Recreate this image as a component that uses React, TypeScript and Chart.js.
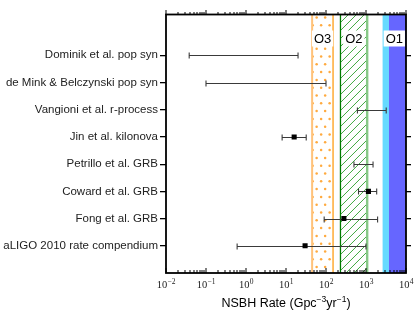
import React, { useEffect, useRef } from "react";
import { Chart, registerables } from "chart.js";

Chart.register(...registerables);

// ---- data ----
const categories = [
  "Dominik et al. pop syn",
  "de Mink & Belczynski pop syn",
  "Vangioni et al. r-process",
  "Jin et al. kilonova",
  "Petrillo et al. GRB",
  "Coward et al. GRB",
  "Fong et al. GRB",
  "aLIGO 2010 rate compendium",
];
const rateLow = [0.038, 0.1, 610, 8, 500, 650, 90, 0.6];
const rateHigh = [20, 100, 3200, 32, 1500, 1850, 1950, 1000];
const rateCentral: (number | null)[] = [null, null, null, 16, null, 1150, 280, 30];

const runNames = ["O3", "O2", "O1"];
const runLow = [45, 230, 2600];
const runHigh = [150, 1070, 10000];
const o1InnerEdge = 3750;

const xTickExponents = [-2, -1, 0, 1, 2, 3, 4];
const xMinorMultipliers = [1, 2, 3, 4, 5, 6, 7, 8, 9];
const xMin = 0.01;
const xMax = 10000;

const SANS = "'Liberation Sans', Arial, Helvetica, sans-serif";
const SERIF = "'Liberation Serif', 'DejaVu Serif', serif";

const decorPlugin = {
  id: "decor",
  beforeDatasetsDraw(chart: any) {
    const ctx = chart.ctx;
    const { top, bottom } = chart.chartArea;
    const xs = chart.scales.x;
    const ys = chart.scales.y;
    ctx.save();
    ctx.beginPath();
    ctx.rect(chart.chartArea.left, top, chart.chartArea.right - chart.chartArea.left, bottom - top);
    ctx.clip();

    // O3 band: dots
    {
      const a = xs.getPixelForValue(runLow[0]);
      const b = xs.getPixelForValue(runHigh[0]);
      ctx.save();
      ctx.beginPath();
      ctx.rect(a, top, b - a, bottom - top);
      ctx.clip();
      ctx.fillStyle = "#FFAA3F";
      let row = 0;
      for (let y = top + 3; y < bottom; y += 7.8) {
        const off = row % 2 === 0 ? 4.5 : 0.5;
        for (let x = a + off; x < b; x += 8.5) {
          ctx.beginPath();
          ctx.arc(x, y, 1.25, 0, Math.PI * 2);
          ctx.fill();
        }
        row++;
      }
      ctx.restore();
      ctx.lineWidth = 2;
      ctx.strokeStyle = "#FFC27A";
      ctx.beginPath();
      ctx.moveTo(a, top);
      ctx.lineTo(a, bottom);
      ctx.stroke();
      ctx.lineWidth = 1.2;
      ctx.strokeStyle = "#FF9500";
      ctx.beginPath();
      ctx.moveTo(b, top);
      ctx.lineTo(b, bottom);
      ctx.stroke();
    }

    // O2 band: hatch
    {
      const a = xs.getPixelForValue(runLow[1]);
      const b = xs.getPixelForValue(runHigh[1]);
      ctx.save();
      ctx.beginPath();
      ctx.rect(a, top, b - a, bottom - top);
      ctx.clip();
      ctx.strokeStyle = "#2E9E2E";
      ctx.lineWidth = 0.9;
      const h = bottom - top;
      for (let s = a - h; s < b + 10; s += 8) {
        ctx.beginPath();
        ctx.moveTo(s, bottom);
        ctx.lineTo(s + h, top);
        ctx.stroke();
      }
      ctx.restore();
      ctx.lineWidth = 1.3;
      ctx.strokeStyle = "#007A00";
      ctx.beginPath();
      ctx.moveTo(a, top);
      ctx.lineTo(a, bottom);
      ctx.stroke();
      ctx.lineWidth = 2.4;
      ctx.strokeStyle = "#86C886";
      ctx.beginPath();
      ctx.moveTo(b, top);
      ctx.lineTo(b, bottom);
      ctx.stroke();
    }

    // O1 band
    {
      const a = xs.getPixelForValue(runLow[2]);
      const m = xs.getPixelForValue(o1InnerEdge);
      const b = xs.getPixelForValue(runHigh[2]);
      ctx.fillStyle = "#66DAFF";
      ctx.fillRect(a, top, m - a, bottom - top);
      ctx.fillStyle = "#6666FF";
      ctx.fillRect(m, top, b - m, bottom - top);
    }

    // run labels
    ctx.font = `13px ${SANS}`;
    ctx.textAlign = "center";
    ctx.textBaseline = "middle";
    const ly = 38.5;
    runNames.forEach((name, i) => {
      const c = xs.getPixelForValue(Math.sqrt(runLow[i] * runHigh[i]));
      const w = ctx.measureText(name).width;
      ctx.fillStyle = "#FFFFFF";
      ctx.fillRect(c - w / 2 - 2, ly - 8, w + 4, 16);
      ctx.fillStyle = "#000000";
      ctx.fillText(name, c, ly + 0.5);
    });

    // error bars
    ctx.strokeStyle = "#3a3a3a";
    ctx.lineWidth = 1.1;
    categories.forEach((_, i) => {
      const y = Math.round(ys.getPixelForValue(i)) + 0.5;
      const x1 = xs.getPixelForValue(rateLow[i]);
      const x2 = xs.getPixelForValue(rateHigh[i]);
      ctx.beginPath();
      ctx.moveTo(x1, y);
      ctx.lineTo(x2, y);
      ctx.moveTo(x1, y - 3);
      ctx.lineTo(x1, y + 3);
      ctx.moveTo(x2, y - 3);
      ctx.lineTo(x2, y + 3);
      ctx.stroke();
    });
    ctx.restore();
  },
  afterDraw(chart: any) {
    const ctx = chart.ctx;
    const { left, right, top, bottom } = chart.chartArea;
    const xs = chart.scales.x;
    ctx.save();
    // frame
    ctx.strokeStyle = "#000";
    ctx.lineWidth = 1.8;
    ctx.strokeRect(left, top, right - left, bottom - top);

    // x ticks (top outward, bottom inward)
    ctx.fillStyle = "#000";
    const t0 = Math.round(top);
    const b0 = Math.round(bottom);
    xTickExponents.forEach((e) => {
      xMinorMultipliers.forEach((k) => {
        const v = k * Math.pow(10, e);
        if (v > xMax * 1.0001) return;
        const x = Math.round(xs.getPixelForValue(v));
        const len = k === 1 ? 5 : 3;
        ctx.fillRect(x - 0.5, t0 - len, 1, len);
        ctx.fillRect(x - 0.5, b0 - len, 1, len);
      });
    });

    // x tick labels 10^n
    ctx.fillStyle = "#222";
    ctx.textBaseline = "alphabetic";
    ctx.textAlign = "left";
    xTickExponents.forEach((e) => {
      const x = xs.getPixelForValue(Math.pow(10, e));
      const base = "10";
      const sup = e < 0 ? "\u2212" + String(-e) : String(e);
      ctx.font = `10.5px ${SERIF}`;
      const wb = ctx.measureText(base).width;
      ctx.font = `7.5px ${SERIF}`;
      const ws = ctx.measureText(sup).width;
      const start = x - (wb + ws) / 2;
      ctx.font = `10.5px ${SERIF}`;
      ctx.fillText(base, start, 288);
      ctx.font = `7.5px ${SERIF}`;
      ctx.fillText(sup, start + wb + 0.3, 283.5);
    });

    // axis title with superscripts
    const parts: [string, boolean][] = [
      ["NSBH Rate (Gpc", false],
      ["\u22123", true],
      ["yr", false],
      ["\u22121", true],
      [")", false],
    ];
    const big = `12.5px ${SANS}`;
    const small = `8.5px ${SANS}`;
    let total = 0;
    parts.forEach(([t, s]) => {
      ctx.font = s ? small : big;
      total += ctx.measureText(t).width;
    });
    let cx = (left + right) / 2 - total / 2;
    parts.forEach(([t, s]) => {
      ctx.font = s ? small : big;
      ctx.fillStyle = "#000";
      ctx.fillText(t, cx, s ? 302 : 307);
      cx += ctx.measureText(t).width;
    });
    ctx.restore();
  },
};

const catTicks = (scale: any) => {
  scale.ticks = categories.map((_, i) => ({ value: i }));
};

export default function App() {
  const ref = useRef<HTMLCanvasElement | null>(null);
  useEffect(() => {
    if (!ref.current) return;
    const points = categories
      .map((_, i) => (rateCentral[i] == null ? null : { x: rateCentral[i] as number, y: i }))
      .filter((p) => p !== null);
    const chart = new Chart(ref.current, {
      type: "scatter",
      data: {
        datasets: [
          {
            data: points as any,
            pointStyle: "rect",
            pointRadius: 3.6,
            backgroundColor: "#000",
            borderColor: "#000",
            borderWidth: 0,
          },
        ],
      },
      options: {
        animation: false,
        responsive: false,
        maintainAspectRatio: false,
        layout: { padding: 0 },
        plugins: { legend: { display: false }, tooltip: { enabled: false } },
        scales: {
          x: {
            type: "logarithmic",
            position: "bottom",
            min: xMin,
            max: xMax,
            grid: { display: false },
            border: { display: false },
            ticks: { display: false },
            afterFit: (s: any) => {
              s.height = 39;
            },
          },
          xTop: {
            type: "logarithmic",
            position: "top",
            min: xMin,
            max: xMax,
            grid: { display: false },
            border: { display: false },
            ticks: { display: false },
            afterFit: (s: any) => {
              s.height = 14.5;
            },
          },
          y: {
            type: "linear",
            position: "left",
            reverse: true,
            min: -1.5,
            max: 8,
            afterBuildTicks: catTicks,
            border: { display: false },
            grid: {
              display: true,
              drawOnChartArea: false,
              drawTicks: true,
              tickLength: 6,
              color: "#000",
              lineWidth: 1.3,
            },
            ticks: {
              padding: 2,
              color: "#222",
              font: { family: SANS, size: 11.5 },
              callback: (v: any) => categories[v as number] ?? "",
            },
            afterFit: (s: any) => {
              s.width = 166;
            },
          },
          yRight: {
            type: "linear",
            position: "right",
            reverse: true,
            min: -1.5,
            max: 8,
            afterBuildTicks: catTicks,
            border: { display: false },
            grid: {
              display: true,
              drawOnChartArea: false,
              drawTicks: true,
              tickLength: 5,
              color: "#000",
              lineWidth: 1.3,
            },
            ticks: { display: true, callback: () => "" },
            afterFit: (s: any) => {
              s.width = 9;
            },
          },
        },
      } as any,
      plugins: [decorPlugin],
    });
    return () => chart.destroy();
  }, []);
  return (
    <div style={{ position: "fixed", left: 0, top: 0, width: 415, height: 312, background: "#fff" }}>
      <canvas ref={ref} width={415} height={312} style={{ width: 415, height: 312, display: "block" }} />
    </div>
  );
}
